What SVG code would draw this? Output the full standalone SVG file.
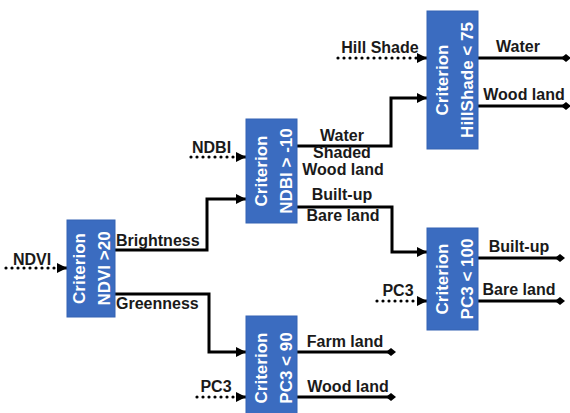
<svg xmlns="http://www.w3.org/2000/svg" width="570" height="413" viewBox="0 0 570 413">
<defs>
<style>
.box{fill:#3b6cc0;stroke:#3463b3;stroke-width:1}
.bt{font-family:"Liberation Sans",Arial,sans-serif;font-weight:bold;font-size:17px;fill:#fff;text-anchor:middle}
.lb{font-family:"Liberation Sans",Arial,sans-serif;font-weight:bold;font-size:16px;fill:#1a1a1a}
.mid{text-anchor:middle}
.ln{fill:none;stroke:#000;stroke-width:3}
.dot{fill:none;stroke:#000;stroke-width:3.2;stroke-dasharray:0 6;stroke-linecap:round}
</style>
<marker id="arr" markerUnits="userSpaceOnUse" markerWidth="12" markerHeight="12" refX="11" refY="6" orient="auto">
<path d="M1,1 L11,6 L1,11 Z" fill="#000"/>
</marker>
<marker id="dia" markerUnits="userSpaceOnUse" markerWidth="12" markerHeight="12" refX="6" refY="6" orient="auto">
<path d="M1,6 L6,2 L11,6 L6,10 Z" fill="#000"/>
</marker>
</defs>
<rect width="570" height="413" fill="#fff"/>

<g id="connectors">
<path class="dot" d="M6,268 H58"/>
<path class="ln" d="M58,268 H67" marker-end="url(#arr)" stroke-width="0"/>
<path class="ln" d="M115,250 H207 V199 H246" marker-end="url(#arr)"/>
<path class="ln" d="M115,294 H209 V352 H246" marker-end="url(#arr)"/>
<path class="dot" d="M191,157 H237"/>
<path class="ln" d="M237,157 H246" marker-end="url(#arr)" stroke-width="0"/>
<path class="ln" d="M297,146 H391 V98 H427" marker-end="url(#arr)"/>
<path class="ln" d="M297,207 H392 V252 H427" marker-end="url(#arr)"/>
<path class="dot" d="M338,58 H418"/>
<path class="ln" d="M418,58 H427" marker-end="url(#arr)" stroke-width="0"/>
<path class="ln" d="M478,58 H566" marker-end="url(#dia)"/>
<path class="ln" d="M478,106 H566" marker-end="url(#dia)"/>
<path class="dot" d="M377,301 H418"/>
<path class="ln" d="M418,301 H427" marker-end="url(#arr)" stroke-width="0"/>
<path class="ln" d="M478,258 H560" marker-end="url(#dia)"/>
<path class="ln" d="M478,301 H560" marker-end="url(#dia)"/>
<path class="dot" d="M197,397 H237"/>
<path class="ln" d="M237,397 H246" marker-end="url(#arr)" stroke-width="0"/>
<path class="ln" d="M297,352 H391" marker-end="url(#dia)"/>
<path class="ln" d="M297,397 H391" marker-end="url(#dia)"/>
</g>

<g id="node-ndvi">
<rect class="box" x="67" y="220" width="48" height="97"/>
<g transform="translate(91,268.5) rotate(-90)">
<text class="bt" x="0" y="-6">Criterion</text>
<text class="bt" x="0" y="19">NDVI &gt;20</text>
</g>
</g>

<g id="node-ndbi">
<rect class="box" x="246" y="119" width="51" height="104"/>
<g transform="translate(271.5,171) rotate(-90)">
<text class="bt" x="0" y="-5">Criterion</text>
<text class="bt" x="0" y="20">NDBI &gt; -10</text>
</g>
</g>

<g id="node-hillshade">
<rect class="box" x="427" y="11" width="51" height="138"/>
<g transform="translate(452.5,80) rotate(-90)">
<text class="bt" x="0" y="-5">Criterion</text>
<text class="bt" x="0" y="20">HillShade &lt; 75</text>
</g>
</g>

<g id="node-pc3-100">
<rect class="box" x="427" y="228" width="51" height="102"/>
<g transform="translate(452.5,279) rotate(-90)">
<text class="bt" x="0" y="-5">Criterion</text>
<text class="bt" x="0" y="20">PC3 &lt; 100</text>
</g>
</g>

<g id="node-pc3-90">
<rect class="box" x="246" y="316" width="51" height="104"/>
<g transform="translate(271.5,368) rotate(-90)">
<text class="bt" x="0" y="-5">Criterion</text>
<text class="bt" x="0" y="20">PC3 &lt; 90</text>
</g>
</g>

<g id="labels">
<text class="lb" x="13" y="265">NDVI</text>
<text class="lb" x="116" y="246">Brightness</text>
<text class="lb" x="116" y="309">Greenness</text>
<text class="lb" x="192" y="153">NDBI</text>
<text class="lb mid" x="342" y="141">Water</text>
<text class="lb mid" x="342" y="158">Shaded</text>
<text class="lb mid" x="343" y="175">Wood land</text>
<text class="lb mid" x="342" y="200">Built-up</text>
<text class="lb mid" x="343" y="221">Bare land</text>
<text class="lb mid" x="380" y="53">Hill Shade</text>
<text class="lb mid" x="518" y="52">Water</text>
<text class="lb mid" x="524" y="100">Wood land</text>
<text class="lb mid" x="398" y="296">PC3</text>
<text class="lb mid" x="519" y="252">Built-up</text>
<text class="lb mid" x="519" y="295">Bare land</text>
<text class="lb mid" x="216" y="392">PC3</text>
<text class="lb mid" x="345" y="347">Farm land</text>
<text class="lb mid" x="348" y="392">Wood land</text>
</g>
</svg>
